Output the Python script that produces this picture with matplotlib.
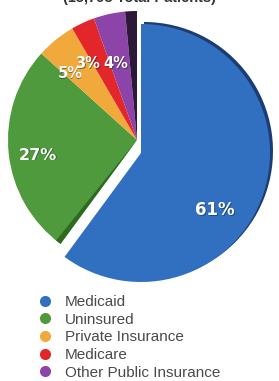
import matplotlib
matplotlib.use("Agg")
from matplotlib import pyplot as plt
from matplotlib.lines import Line2D
from matplotlib.patches import Wedge

# data
categories = ["Medicaid", "Uninsured", "Private Insurance", "Medicare", "Other Public Insurance"]
shares = [61, 27, 5, 3, 4]
labels = ["61%", "27%", "5%", "3%", "4%"]
colors = ["#3170c0", "#4f9a3c", "#f2a93b", "#e2262a", "#8d44a8"]
side_share = 1.5          # dark side face of the pulled-out wedge
title = "(15,798 Total Patients)"

fig = plt.figure(figsize=(2.79, 3.81), dpi=100)

# pie area in pixel units (top 290 px of the figure), y measured upward
ax = fig.add_axes([0, 1 - 290 / 381, 1, 290 / 381])

vals = shares + [side_share]
cols = colors + ["#2d1838"]
cx, cy, r = 137, 150, 129
wedges, _ = ax.pie(vals, colors=cols, startangle=90, counterclock=False,
                   center=(cx, cy), radius=r,
                   wedgeprops=dict(linewidth=0))

# pull the Medicaid wedge down/right like in the original
blue = wedges[0]
bx, by = cx + 4, cy - 13
blue.set_center((bx, by))
# dark rim behind it
rim = Wedge((bx + 3, by + 2), r, blue.theta1, blue.theta2,
            facecolor="#1c3d73", linewidth=0, zorder=blue.get_zorder() - 0.5)
ax.add_patch(rim)
# dark shade along the green cut edge
g = wedges[1]
shade = Wedge((cx, cy), r, g.theta2 - 2.5, g.theta2, facecolor="#2f6a22",
              linewidth=0, zorder=g.get_zorder() + 0.1)
ax.add_patch(shade)

ax.set_xlim(0, 279)
ax.set_ylim(0, 290)
ax.set_aspect("equal")
ax.axis("off")

# labels
pos = [(215, 80), (38, 135), (70, 216), (88, 226), (116, 226)]
sizes = [12, 11.5, 10.5, 10.5, 10.5]
for (x, y), t, s in zip(pos, labels, sizes):
    ax.text(x + 0.8, y - 0.8, t, color="#1a2a1a", alpha=0.5, fontsize=s,
            fontweight="bold", ha="center", va="center")
    ax.text(x, y, t, color="white", fontsize=s, fontweight="bold",
            ha="center", va="center")

fig.text(0.5, 1.005, title, ha="center", va="center", fontsize=10.5,
         fontweight="bold", color="#333333", family="Liberation Sans")

# legend
handles = [Line2D([0], [0], marker="o", color="none", markerfacecolor=c,
                  markeredgecolor="none", markersize=8) for c in colors]
fig.legend(handles, categories, loc="upper left", bbox_to_anchor=(0.135, 0.226),
           frameon=False, prop=dict(family="Liberation Sans", size=11),
           handletextpad=0.8, labelspacing=0.24, handlelength=1.0,
           borderpad=0, borderaxespad=0, labelcolor="#4a4a4a")

fig.savefig("out.png", dpi=100)
